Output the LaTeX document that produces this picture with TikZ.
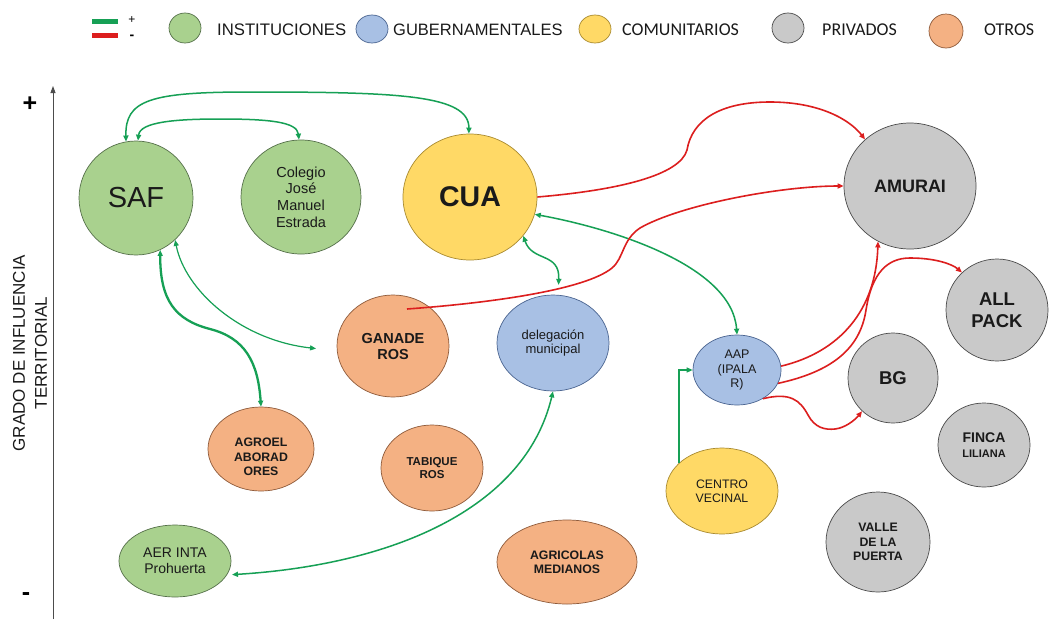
\documentclass[tikz,border=0pt]{standalone}
\usepackage{fontspec}
\setmainfont{Liberation Sans}
\newfontfamily\calib{Carlito}
\usetikzlibrary{shapes.geometric,arrows.meta}
\definecolor{gfill}{HTML}{A9D18E}
\definecolor{gline}{HTML}{55704A}
\definecolor{bfill}{HTML}{A8C0E4}
\definecolor{bline}{HTML}{4A6490}
\definecolor{yfill}{HTML}{FFD966}
\definecolor{yline}{HTML}{A88A30}
\definecolor{pfill}{HTML}{C9C9C9}
\definecolor{pline}{HTML}{4A4A4A}
\definecolor{ofill}{HTML}{F4B183}
\definecolor{oline}{HTML}{8E5A3A}
\definecolor{gcol}{HTML}{16A055}
\definecolor{rcol}{HTML}{DC1E1E}
\definecolor{txt}{HTML}{1A1A1A}
\newcommand\myfs[2]{\fontsize{#1}{#2}\selectfont}
\tikzset{
  ent/.style={ellipse, inner sep=0pt, align=center, line width=0.7pt, text=txt},
  inst/.style={ent, fill=gfill, draw=gline},
  gov/.style={ent, fill=bfill, draw=bline},
  com/.style={ent, fill=yfill, draw=yline},
  priv/.style={ent, fill=pfill, draw=pline},
  otro/.style={ent, fill=ofill, draw=oline},
  rr/.style 2 args={minimum width=2*#1pt, minimum height=2*#2pt},
  gar/.style={draw=gcol, line width=1.5pt, {Triangle[length=6pt,width=5pt]}-{Triangle[length=6pt,width=5pt]}},
  gone/.style={draw=gcol, line width=1.1pt, -{Triangle[length=6pt,width=5pt]}},
  rar/.style={draw=rcol, line width=1.6pt, -{Triangle[length=6pt,width=5pt]}},
  legtxt/.style={anchor=west, inner sep=0pt, text=txt}
}
\begin{document}
\begin{tikzpicture}[x=1pt,y=-1pt]
\useasboundingbox (0,0) rectangle (1051,619);
\fill[white] (0,0) rectangle (1051,619);

% legend
\coordinate (lg1) at (92,21.7); \coordinate (lg2) at (118,21.7);
\coordinate (lr1) at (92,35.5); \coordinate (lr2) at (118,35.5);
\draw[gcol, line width=4.5pt] (lg1) -- (lg2);
\draw[rcol, line width=4.5pt] (lr1) -- (lr2);
\node[font=\myfs{12}{12}, inner sep=0pt] (lplus) at (132,20) {+};
\node[font=\bfseries\myfs{14}{14}, inner sep=0pt] (lminus) at (132,37) {-};
\node[inst, rr={16}{15}] (lgi) at (185,28) {};
\node[legtxt, font=\myfs{16.7}{20}] (lti) at (217,30) {INSTITUCIONES};
\node[gov, rr={16}{14}] (lgg) at (372,29) {};
\node[legtxt, font=\myfs{16.5}{20}] (ltg) at (393,30) {GUBERNAMENTALES};
\node[com, rr={16}{14}] (lgc) at (595,29) {};
\node[legtxt, font=\calib\myfs{18}{20}] (ltc) at (622,29.5) {COMUNITARIOS};
\node[priv, rr={16}{15}] (lgp) at (788,28) {};
\node[legtxt, font=\calib\myfs{18}{20}] (ltp) at (822,29.5) {PRIVADOS};
\node[otro, rr={17}{17}] (lgo) at (946,31) {};
\node[legtxt, font=\calib\myfs{18}{20}] (lto) at (984,30) {OTROS};

% axis
\coordinate (axb) at (53,619); \coordinate (axt) at (53,86);
\draw[line width=0.9pt, black!70, -{Triangle[length=7pt,width=5pt]}] (axb) -- (axt);
\node[font=\bfseries\myfs{25}{25}, inner sep=0pt] (plus) at (30,104) {+};
\node[font=\bfseries\myfs{25}{25}, inner sep=0pt] (minus) at (26,597) {-};
\node[rotate=90, align=center, font=\myfs{17}{22}, text=txt] (axlab) at (30,353) {GRADO DE INFLUENCIA\\TERRITORIAL};

% nodes
\node[inst, rr={57}{57}, font=\myfs{29}{32}] (saf) at (136,198) {SAF};
\node[inst, rr={60}{57}, font=\myfs{14.5}{16.7}] (col) at (301,197) {Colegio\\José\\Manuel\\Estrada};
\node[com, rr={67}{63}, font=\bfseries\myfs{28.5}{32}] (cua) at (470,197) {CUA};
\node[priv, rr={66}{63}, font=\bfseries\myfs{18}{21}] (amu) at (910,186) {AMURAI};
\node[priv, rr={51}{51}, font=\bfseries\myfs{18.5}{22}] (all) at (997,310) {ALL\\PACK};
\node[otro, rr={56}{51}, font=\bfseries\myfs{14.5}{16}] (gan) at (393,346) {GANADE\\ROS};
\node[gov, rr={56}{48}, font=\myfs{13}{14}] (del) at (553,343) {delegación\\municipal};
\node[gov, rr={44}{35}, font=\myfs{12.5}{14.5}] (aap) at (737,370) {AAP\\(IPALA\\R)};
\node[priv, rr={45}{45}, font=\bfseries\myfs{18.5}{22}] (bg) at (893,378) {BG};
\node[priv, rr={46}{42}, font=\bfseries\myfs{11}{15}] (fin) at (984,445) {{\myfs{14}{15}FINCA}\\LILIANA};
\node[otro, rr={53}{42}] (agro) at (261,449) {};
\node[align=center, inner sep=0pt, text=txt, font=\bfseries\myfs{12.3}{14.5}] (agrot) at (261,457) {AGROEL\\ABORAD\\ORES};
\node[otro, rr={51}{43}, font=\bfseries\myfs{11.5}{13.5}] (tab) at (432,468) {TABIQUE\\ROS};
\node[com, rr={56}{43}, font=\myfs{12.3}{14}] (cv) at (722,491) {CENTRO\\VECINAL};
\node[priv, rr={52}{50}, font=\bfseries\myfs{12.3}{14.5}] (val) at (878,542) {VALLE\\DE LA\\PUERTA};
\node[inst, rr={56}{36}, font=\myfs{14}{16}] (aer) at (175,561) {AER INTA\\Prohuerta};
\node[otro, rr={70}{42}, font=\bfseries\myfs{12.3}{14}] (agr) at (567,562) {AGRICOLAS\\MEDIANOS};

% connectors
\draw[gar] (saf.100) .. controls (125,100) and (150,92) .. (250,92) .. controls (400,92) and (469,95) .. (cua.91);
\draw[gar] (saf.88) .. controls (140,122) and (175,119) .. (220,119) .. controls (270,119) and (297,122) .. (col.92);
\draw[gar, line width=1.2pt] (saf.-47) .. controls (185,290) and (240,340) .. (gan.185) [shorten >=21pt];
\draw[gar, line width=2.3pt] (saf.-65) .. controls (160,300) and (175,320) .. (210,329) .. controls (245,338) and (258,362) .. (agro.north);
\draw[gar] (cua.-15) .. controls (610,228) and (732,265) .. (aap.north);
\draw[gar, shorten >=10pt] (cua.-36) .. controls (532,262) and (560,252) .. (del.84);
\draw[gar, shorten <=5pt] (aer.-15) .. controls (390,565) and (525,510) .. (del.-90);
\draw[gone] (cv.147) |- (aap.west);

\coordinate (gs) at (407,309);
\draw[rar] (cua.east) .. controls (620,190) and (680,175) .. (687,150) .. controls (692,120) and (720,102) .. (770,102) .. controls (820,102) and (850,120) .. (amu.134);
\draw[rar] (gs) .. controls (490,303) and (585,290) .. (612,268) .. controls (624,258) and (622,240) .. (640,228) .. controls (680,205) and (780,186) .. (amu.west);
\draw[rar] (aap.5) .. controls (840,352) and (876,310) .. (amu.-120);
\draw[rar] (aap.-18) .. controls (830,372) and (860,350) .. (866,310) .. controls (872,272) and (888,258) .. (910,258) .. controls (935,258) and (952,264) .. (all.133);
\draw[rar] (aap.-48) .. controls (790,392) and (800,400) .. (808,415) .. controls (815,428) and (825,430) .. (835,429) .. controls (845,428) and (855,420) .. (bg.-133);
\end{tikzpicture}
\end{document}
